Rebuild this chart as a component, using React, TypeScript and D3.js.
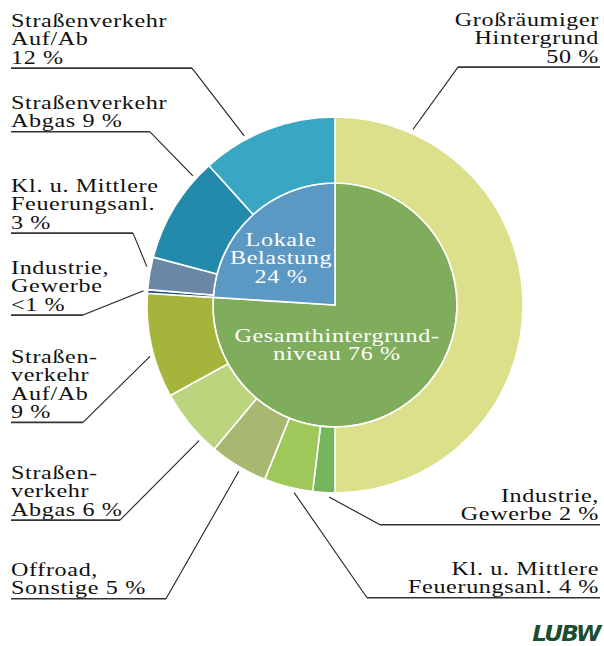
import React from "react";
import * as d3 from "d3";

// ---------- data ----------
const innerLabels = ["Gesamthintergrund-niveau", "Lokale Belastung"];
const innerValues = [76, 24];
const innerPctText = ["76 %", "24 %"];

const outerLabels = [
  "Großräumiger Hintergrund",
  "Industrie, Gewerbe",
  "Kl. u. Mittlere Feuerungsanl.",
  "Offroad, Sonstige",
  "Straßenverkehr Abgas",
  "Straßenverkehr Auf/Ab",
  "Industrie, Gewerbe",
  "Kl. u. Mittlere Feuerungsanl.",
  "Straßenverkehr Abgas",
  "Straßenverkehr Auf/Ab",
];
const outerValues = [50, 1.9, 4.2, 5.0, 5.9, 9.0, 0.3, 2.8, 9.2, 11.7];
const outerPctText = ["50 %", "2 %", "4 %", "5 %", "6 %", "9 %", "<1 %", "3 %", "9 %", "12 %"];

// ---------- styles ----------
const innerColors = ["#80ad5c", "#5b98c3"];
const outerColors = [
  "#dce08b",
  "#74b65b",
  "#9fc85a",
  "#a8b870",
  "#bdd47f",
  "#a5b53b",
  "#1f4f7a",
  "#6a87a3",
  "#238aab",
  "#39a7c4",
];

// label layout: text lines, anchor side, x, first baseline, elbow x, position along slice (t)
const labelLayout = [
  { lines: ["Großräumiger", "Hintergrund", "50 %"], side: "right", x: 599, y: 26, elbow: 458, t: 0.133 },
  { lines: ["Industrie,", "Gewerbe 2 %"], side: "right", x: 599, y: 502, elbow: 380, t: 0.26 },
  { lines: ["Kl. u. Mittlere", "Feuerungsanl. 4 %"], side: "right", x: 599, y: 575, elbow: 367, t: 0.36 },
  { lines: ["Offroad,", "Sonstige 5 %"], side: "left", x: 11, y: 576, elbow: 166, t: 0.45 },
  { lines: ["Straßen-", "verkehr", "Abgas 6 %"], side: "left", x: 11, y: 479, elbow: 120, t: 0.24 },
  { lines: ["Straßen-", "verkehr", "Auf/Ab", "9 %"], side: "left", x: 11, y: 363, elbow: 83, t: 0.41 },
  { lines: ["Industrie,", "Gewerbe", "<1 %"], side: "left", x: 11, y: 274, elbow: 83, t: 0.6 },
  { lines: ["Kl. u. Mittlere", "Feuerungsanl.", "3 %"], side: "left", x: 11, y: 192, elbow: 133, t: 0.68 },
  { lines: ["Straßenverkehr", "Abgas 9 %"], side: "left", x: 11, y: 109, elbow: 150, t: 0.83 },
  { lines: ["Straßenverkehr", "Auf/Ab", "12 %"], side: "left", x: 11, y: 27, elbow: 192, t: 0.33 },
];

const W = 604;
const H = 646;
const cx = 335;
const cy = 305;
const rInner = 122;
const rOuter = 188;
const lineH = 18.3;
const fontFamily = "'Liberation Serif', 'Times New Roman', serif";
const fontSize = 19;
const letterSpacing = 0.5;
const sx = 1.27;

export default function App() {
  const pie = d3.pie<number>().sort(null).value((d) => d);
  const innerArcs = pie(innerValues);
  const outerArcs = pie(outerValues);
  const innerArc = d3.arc<d3.PieArcDatum<number>>().innerRadius(0).outerRadius(rInner);
  const outerArc = d3.arc<d3.PieArcDatum<number>>().innerRadius(rInner).outerRadius(rOuter);

  const innerText = [
    { lines: ["Gesamthintergrund-", "niveau " + innerPctText[0]], x: 337, y: 342 },
    { lines: ["Lokale", "Belastung", innerPctText[1]], x: 281, y: 246 },
  ];

  return (
    <svg
      width={W}
      height={H}
      viewBox={`0 0 ${W} ${H}`}
      style={{ position: "absolute", left: 0, top: 0, background: "#fff" }}
    >
      <g transform={`translate(${cx},${cy})`}>
        {innerArcs.map((a, i) => (
          <path key={"in" + i} d={innerArc(a) || ""} fill={innerColors[i]} stroke="#fff" strokeWidth={1.6}>
            <title>{innerLabels[i]}</title>
          </path>
        ))}
        {outerArcs.map((a, i) => (
          <path key={"out" + i} d={outerArc(a) || ""} fill={outerColors[i]} stroke="#fff" strokeWidth={1.6}>
            <title>{outerLabels[i] + " " + outerPctText[i]}</title>
          </path>
        ))}
      </g>

      {innerText.map((t, i) => (
        <g key={"it" + i} transform={`translate(${t.x},${t.y}) scale(${sx},1)`}>
          <text
            textAnchor="middle"
            fill="#fff"
            fontFamily={fontFamily}
            fontSize={fontSize}
            letterSpacing={letterSpacing}
          >
            {t.lines.map((l, j) => (
              <tspan key={j} x={0} y={j * lineH}>
                {l}
              </tspan>
            ))}
          </text>
        </g>
      ))}

      {labelLayout.map((lab, i) => {
        const a = outerArcs[i];
        const ang = a.startAngle + lab.t * (a.endAngle - a.startAngle);
        const rr = rOuter + 4;
        const px = cx + Math.sin(ang) * rr;
        const py = cy - Math.cos(ang) * rr;
        const lastY = lab.y + (lab.lines.length - 1) * lineH;
        const uy = lastY + 4.5;
        const left = lab.side === "left";
        const x0 = left ? lab.x : lab.elbow;
        const x1 = left ? lab.elbow : lab.x + 1;
        return (
          <g key={"lab" + i}>
            <g transform={`translate(${lab.x},${lab.y}) scale(${sx},1)`}>
              <text
                textAnchor={left ? "start" : "end"}
                fill="#111"
                fontFamily={fontFamily}
                fontSize={fontSize}
                letterSpacing={letterSpacing}
              >
                {lab.lines.map((l, j) => (
                  <tspan key={j} x={0} y={j * lineH}>
                    {l}
                  </tspan>
                ))}
              </text>
            </g>
            <line x1={x0} y1={uy} x2={x1} y2={uy} stroke="#333" strokeWidth={1.6} />
            <line x1={lab.elbow} y1={uy} x2={px} y2={py} stroke="#222" strokeWidth={1.1} />
          </g>
        );
      })}

      <g transform={`translate(600,641) scale(1.05,1)`}>
        <text
          textAnchor="end"
          fill="#1b4d32"
          fontFamily="'DejaVu Sans', sans-serif"
          fontWeight="bold"
          fontStyle="italic"
          fontSize={22}
          letterSpacing={-1.5}
        >
          LUBW
        </text>
      </g>
    </svg>
  );
}
